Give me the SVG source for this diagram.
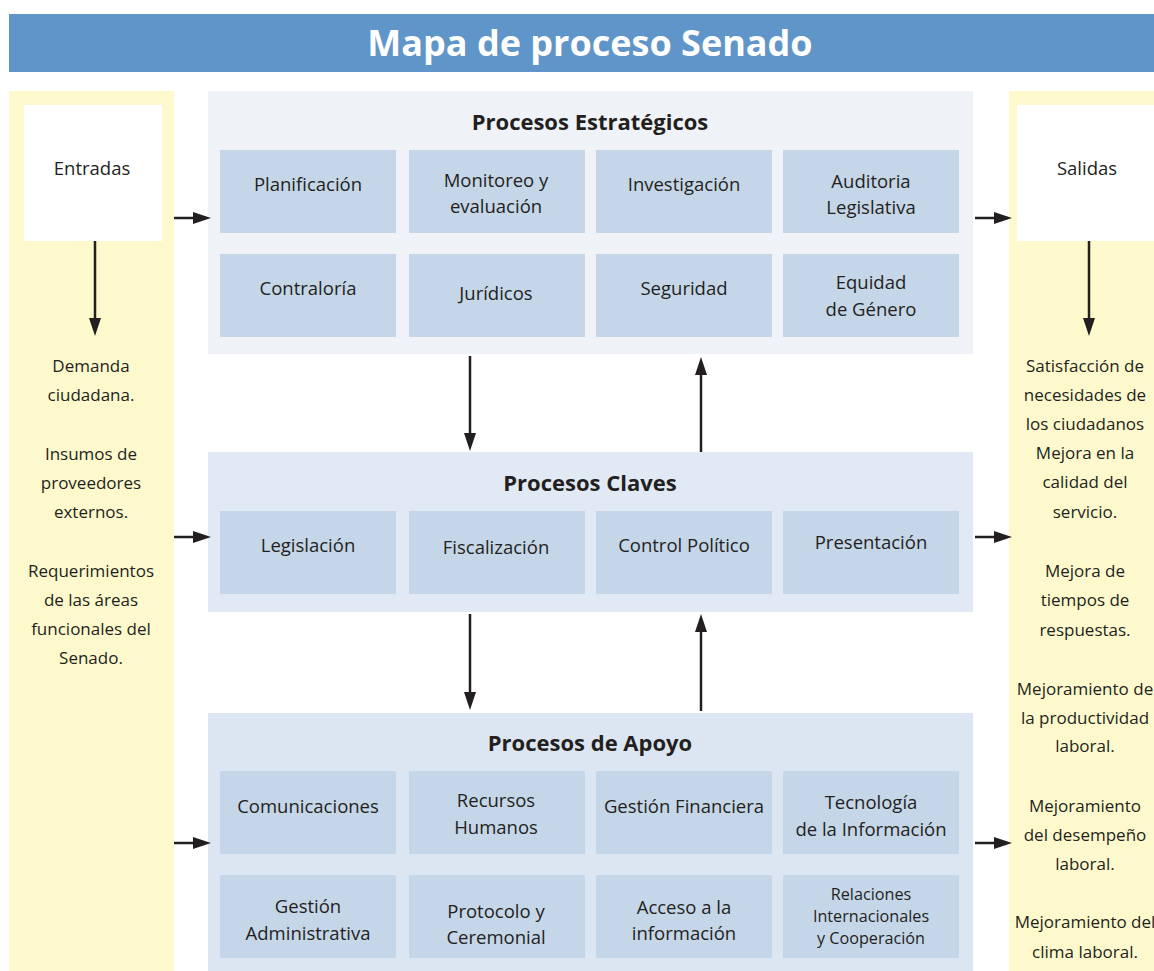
<svg xmlns="http://www.w3.org/2000/svg" width="1154" height="971" viewBox="0 0 1154 971">
<defs>
<style>
text{font-family:"Open Sans","Noto Sans","Liberation Sans",sans-serif;fill:#231f20;text-anchor:middle}
.cell{fill:#c5d6e8}
.t{font-size:18.5px}
.tc{font-size:16.2px}
.s{font-size:17px}
.h{font-size:22px;font-weight:bold}
.side{fill:#fef9cd}
.box{fill:#ffffff}
.arr{stroke:#231f20;stroke-width:2.5;fill:none;marker-end:url(#ah)}
</style>
<marker id="ah" markerUnits="userSpaceOnUse" markerWidth="18" markerHeight="12" refX="8" refY="6" orient="auto">
<path d="M0,0 L18,6 L0,12 Z" fill="#231f20"/>
</marker>
</defs>
<rect width="1154" height="971" fill="#ffffff"/>

<g id="title">
<rect x="9" y="14" width="1145" height="58" fill="#5f95c8"/>
<text x="590" y="56" style="font-size:36px;font-weight:bold;fill:#ffffff">Mapa de proceso Senado</text>
</g>

<g id="entradas">
<rect class="side" x="9" y="91" width="165" height="880"/>
<rect class="box" x="24" y="105" width="138" height="136"/>
<text class="t" x="92" y="175">Entradas</text>
<text class="s" x="91" y="372">Demanda</text>
<text class="s" x="91" y="401">ciudadana.</text>
<text class="s" x="91" y="460">Insumos de</text>
<text class="s" x="91" y="489">proveedores</text>
<text class="s" x="91" y="518">externos.</text>
<text class="s" x="91" y="577">Requerimientos</text>
<text class="s" x="91" y="606">de las áreas</text>
<text class="s" x="91" y="635">funcionales del</text>
<text class="s" x="91" y="664">Senado.</text>
</g>

<g id="salidas">
<rect class="side" x="1009" y="91" width="145" height="880"/>
<rect class="box" x="1017" y="105" width="137" height="136"/>
<text class="t" x="1087" y="175">Salidas</text>
<text class="s" x="1085" y="372">Satisfacción de</text>
<text class="s" x="1085" y="401">necesidades de</text>
<text class="s" x="1085" y="430">los ciudadanos</text>
<text class="s" x="1085" y="459">Mejora en la</text>
<text class="s" x="1085" y="488">calidad del</text>
<text class="s" x="1085" y="518">servicio.</text>
<text class="s" x="1085" y="577">Mejora de</text>
<text class="s" x="1085" y="606">tiempos de</text>
<text class="s" x="1085" y="636">respuestas.</text>
<text class="s" x="1085" y="695">Mejoramiento de</text>
<text class="s" x="1085" y="724">la productividad</text>
<text class="s" x="1085" y="752">laboral.</text>
<text class="s" x="1085" y="812">Mejoramiento</text>
<text class="s" x="1085" y="841">del desempeño</text>
<text class="s" x="1085" y="870">laboral.</text>
<text class="s" x="1085" y="928">Mejoramiento del</text>
<text class="s" x="1085" y="958">clima laboral.</text>
</g>

<g id="estrategicos">
<rect x="208" y="91" width="765" height="263" fill="#eff3f8"/>
<text class="h" x="590" y="130">Procesos Estratégicos</text>
<rect class="cell" x="220" y="150" width="176" height="83"/>
<rect class="cell" x="409" y="150" width="176" height="83"/>
<rect class="cell" x="596" y="150" width="176" height="83"/>
<rect class="cell" x="783" y="150" width="176" height="83"/>
<rect class="cell" x="220" y="254" width="176" height="83"/>
<rect class="cell" x="409" y="254" width="176" height="83"/>
<rect class="cell" x="596" y="254" width="176" height="83"/>
<rect class="cell" x="783" y="254" width="176" height="83"/>
<text class="t" x="308" y="191">Planificación</text>
<text class="t" x="496" y="187">Monitoreo y</text>
<text class="t" x="496" y="213">evaluación</text>
<text class="t" x="684" y="191">Investigación</text>
<text class="t" x="871" y="188">Auditoria</text>
<text class="t" x="871" y="214">Legislativa</text>
<text class="t" x="308" y="295">Contraloría</text>
<text class="t" x="496" y="300">Jurídicos</text>
<text class="t" x="684" y="295">Seguridad</text>
<text class="t" x="871" y="289">Equidad</text>
<text class="t" x="871" y="316">de Género</text>
</g>

<g id="claves">
<rect x="208" y="452" width="765" height="160" fill="#e1e9f4"/>
<text class="h" x="590" y="491">Procesos Claves</text>
<rect class="cell" x="220" y="511" width="176" height="83"/>
<rect class="cell" x="409" y="511" width="176" height="83"/>
<rect class="cell" x="596" y="511" width="176" height="83"/>
<rect class="cell" x="783" y="511" width="176" height="83"/>
<text class="t" x="308" y="552">Legislación</text>
<text class="t" x="496" y="554">Fiscalización</text>
<text class="t" x="684" y="552">Control Político</text>
<text class="t" x="871" y="549">Presentación</text>
</g>

<g id="apoyo">
<rect x="208" y="713" width="765" height="258" fill="#dce6f2"/>
<text class="h" x="590" y="751">Procesos de Apoyo</text>
<rect class="cell" x="220" y="771" width="176" height="83"/>
<rect class="cell" x="409" y="771" width="176" height="83"/>
<rect class="cell" x="596" y="771" width="176" height="83"/>
<rect class="cell" x="783" y="771" width="176" height="83"/>
<rect class="cell" x="220" y="875" width="176" height="83"/>
<rect class="cell" x="409" y="875" width="176" height="83"/>
<rect class="cell" x="596" y="875" width="176" height="83"/>
<rect class="cell" x="783" y="875" width="176" height="83"/>
<text class="t" x="308" y="813">Comunicaciones</text>
<text class="t" x="496" y="807">Recursos</text>
<text class="t" x="496" y="834">Humanos</text>
<text class="t" x="684" y="813">Gestión Financiera</text>
<text class="t" x="871" y="809">Tecnología</text>
<text class="t" x="871" y="836">de la Información</text>
<text class="t" x="308" y="913">Gestión</text>
<text class="t" x="308" y="940">Administrativa</text>
<text class="t" x="496" y="918">Protocolo y</text>
<text class="t" x="496" y="944">Ceremonial</text>
<text class="t" x="684" y="914">Acceso a la</text>
<text class="t" x="684" y="940">información</text>
<text class="tc" x="871" y="900">Relaciones</text>
<text class="tc" x="871" y="922">Internacionales</text>
<text class="tc" x="871" y="944">y Cooperación</text>
</g>

<g id="connectors">
<line class="arr" x1="95" y1="241" x2="95" y2="326"/>
<line class="arr" x1="1089" y1="241" x2="1089" y2="326"/>
<line class="arr" x1="174" y1="218" x2="201" y2="218"/>
<line class="arr" x1="174" y1="537" x2="201" y2="537"/>
<line class="arr" x1="174" y1="843" x2="201" y2="843"/>
<line class="arr" x1="975" y1="218" x2="1002" y2="218"/>
<line class="arr" x1="975" y1="537" x2="1002" y2="537"/>
<line class="arr" x1="975" y1="843" x2="1002" y2="843"/>
<line class="arr" x1="470" y1="356" x2="470" y2="441"/>
<line class="arr" x1="701" y1="452" x2="701" y2="367"/>
<line class="arr" x1="470" y1="614" x2="470" y2="700"/>
<line class="arr" x1="701" y1="711" x2="701" y2="624"/>
</g>
</svg>
